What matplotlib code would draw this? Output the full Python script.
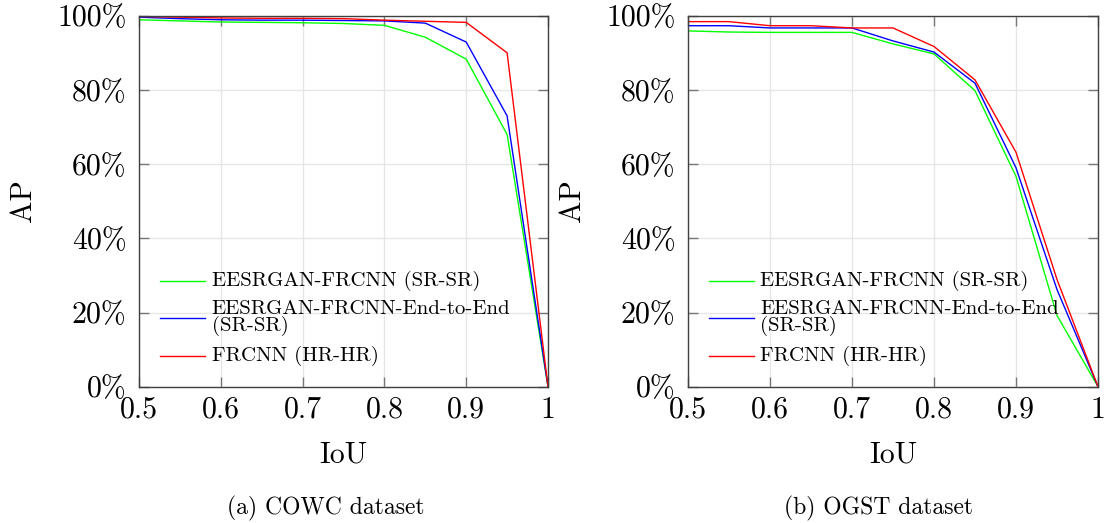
import matplotlib
matplotlib.use("Agg")
import matplotlib.pyplot as plt

plt.rcParams['font.family'] = ['cmr10', 'DejaVu Serif']
plt.rcParams['mathtext.fontset'] = 'cm'
plt.rcParams['axes.unicode_minus'] = False
plt.rcParams['axes.formatter.use_mathtext'] = True

iou = [0.5, 0.55, 0.6, 0.65, 0.7, 0.75, 0.8, 0.85, 0.9, 0.95, 1.0]

cowc_eesrgan = [98.9, 98.6, 98.3, 98.2, 98.1, 97.9, 97.4, 94.2, 88.3, 68.0, 0.0]
cowc_end2end = [99.6, 99.2, 98.9, 98.8, 98.8, 98.7, 98.6, 98.0, 92.9, 73.0, 0.0]
cowc_frcnn = [99.8, 99.6, 99.4, 99.3, 99.3, 99.2, 98.8, 98.5, 98.2, 90.0, 0.0]

ogst_eesrgan = [95.9, 95.6, 95.5, 95.5, 95.5, 92.4, 89.7, 79.8, 56.7, 19.2, 0.0]
ogst_end2end = [97.3, 97.3, 96.7, 96.7, 96.7, 93.2, 90.2, 81.8, 59.0, 26.2, 0.0]
ogst_frcnn = [98.4, 98.4, 97.3, 97.3, 96.7, 96.7, 91.7, 82.7, 63.2, 28.9, 0.0]

series_labels = ['EESRGAN-FRCNN (SR-SR)', 'EESRGAN-FRCNN-End-to-End\n(SR-SR)', 'FRCNN (HR-HR)']
series_colors = ['#00ff00', '#0000ff', '#ff0000']
x_ticks = [0.5, 0.6, 0.7, 0.8, 0.9, 1.0]
x_tick_labels = ['0.5', '0.6', '0.7', '0.8', '0.9', '1']
y_ticks = [0, 20, 40, 60, 80, 100]
y_tick_labels = ['0%', '20%', '40%', '60%', '80%', '100%']
captions = ['(a) COWC dataset', '(b) OGST dataset']

W, H = 1106, 523
fig = plt.figure(figsize=(W / 100, H / 100), dpi=100)

panels = [
    (139, 548, [cowc_eesrgan, cowc_end2end, cowc_frcnn], captions[0], 23, 326),
    (688, 1098, [ogst_eesrgan, ogst_end2end, ogst_frcnn], captions[1], 572, 879),
]
top_px, bot_px = 15.7, 386.7
legend_rows_px = [280.7, 318.0, 355.7]

for (x0, x1, data, cap, aplx, capx) in panels:
    ax = fig.add_axes([x0 / W, 1 - bot_px / H, (x1 - x0) / W, (bot_px - top_px) / H])
    for vals, lab, col in zip(data, series_labels, series_colors):
        ax.plot(iou, vals, color=col, lw=1.0, label=lab)
    ax.set_xlim(0.5, 1.0)
    ax.set_ylim(0, 100)
    ax.set_xticks(x_ticks)
    ax.set_xticklabels(x_tick_labels)
    ax.set_yticks(y_ticks)
    ax.set_yticklabels(y_tick_labels)
    ax.grid(True, color='#e6e6e6', lw=1.0)
    ax.set_axisbelow(True)
    ax.tick_params(direction='in', length=7, width=1.0, color='#777777',
                   top=True, right=True, labelsize=21.5, pad=7)
    ax.tick_params(axis='y', pad=9)
    for sp in ax.spines.values():
        sp.set_color('#404040')
        sp.set_linewidth(1.0)
    # legend (no frame), drawn as handle line + text per entry
    w_px = x1 - x0
    h_px = bot_px - top_px
    for lab, col, ypx in zip(series_labels, series_colors, legend_rows_px):
        ya = (bot_px - ypx) / h_px
        ax.plot([21 / w_px, 66 / w_px], [ya, ya], color=col, lw=1.0,
                transform=ax.transAxes, clip_on=False)
        ax.text(72.5 / w_px, ya, lab, transform=ax.transAxes, ha='left', va='center',
                fontsize=15, linespacing=0.85)
    xc = (x0 + x1) / 2 / W
    fig.text(xc, 1 - 462.7 / H, 'IoU', ha='center', va='baseline', fontsize=21.5)
    fig.text(capx / W, 1 - 514 / H, cap, ha='center', va='baseline', fontsize=17)
    fig.text(aplx / W, 1 - 201 / H, 'AP', ha='center', va='center', rotation=90, fontsize=21.5)

fig.savefig('out.png', dpi=100)
